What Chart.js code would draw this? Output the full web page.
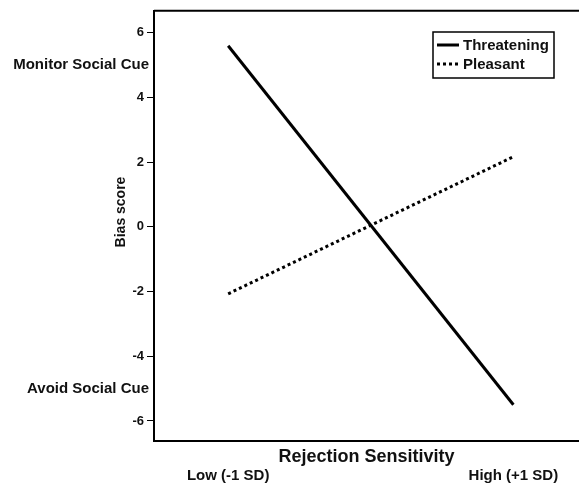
<!DOCTYPE html>
<html>
<head>
<meta charset="utf-8">
<script src="https://cdn.jsdelivr.net/npm/chart.js@4"></script>
<style>
  html, body { margin: 0; padding: 0; background: #fff; }
  #wrap { width: 579px; height: 484px; }
</style>
</head>
<body>
<div id="wrap"><canvas id="myChart"></canvas></div>
<script>
// data
const levels = ['Low (-1 SD)', 'High (+1 SD)'];
const levelPos = [0, 1];
const threatening = [5.6, -5.5];
const pleasant = [-2.07, 2.17];
const yTicks = [-6, -4, -2, 0, 2, 4, 6];

const FONT = '"Liberation Sans", Arial, sans-serif';

const ctx = document.getElementById('myChart').getContext('2d');

// extra text + frame + legend drawn by hand
const decorations = {
    id: 'decorations',
    afterDraw(chart) {
        const { ctx, chartArea, scales } = chart;
        const y = scales.y;
        ctx.save();

        // top border of the plot box
        ctx.strokeStyle = '#000';
        ctx.lineWidth = 2;
        ctx.beginPath();
        ctx.moveTo(chartArea.left, chartArea.top);
        ctx.lineTo(chartArea.right, chartArea.top);
        ctx.stroke();

        ctx.fillStyle = '#111';
        ctx.textBaseline = 'middle';

        // anchor labels
        ctx.font = 'bold 15px ' + FONT;
        ctx.textAlign = 'right';
        ctx.fillText('Monitor Social Cue', 149, y.getPixelForValue(5));
        ctx.fillText('Avoid Social Cue', 149, y.getPixelForValue(-5));

        // y title
        ctx.font = 'bold 14px ' + FONT;
        ctx.save();
        ctx.translate(121, 212);
        ctx.rotate(-Math.PI / 2);
        ctx.textAlign = 'center';
        ctx.fillText('Bias score', 0, 0);
        ctx.restore();

        // x title (sits above the tick labels)
        ctx.font = 'bold 18px ' + FONT;
        ctx.textAlign = 'center';
        ctx.fillText('Rejection Sensitivity', (chartArea.left + chartArea.right) / 2, 457);

        // legend box
        const bx = chartArea.right - 146, by = 32, bw = 121, bh = 46;
        ctx.lineWidth = 1.5;
        ctx.strokeStyle = '#000';
        ctx.strokeRect(bx, by, bw, bh);
        ctx.font = 'bold 15px ' + FONT;
        ctx.textAlign = 'left';
        chart.data.datasets.forEach((ds, i) => {
            const ly = by + 13 + i * 19;
            ctx.lineWidth = 3;
            ctx.setLineDash(ds.borderDash || []);
            ctx.beginPath();
            ctx.moveTo(bx + 4, ly);
            ctx.lineTo(bx + 26, ly);
            ctx.stroke();
            ctx.setLineDash([]);
            ctx.fillText(ds.label, bx + 30, ly + 1);
        });

        ctx.restore();
    }
};

new Chart(ctx, {
    type: 'line',
    data: {
        datasets: [
            {
                label: 'Threatening',
                data: levelPos.map((x, i) => ({ x: x, y: threatening[i] })),
                borderColor: '#000',
                borderWidth: 3,
                pointRadius: 0,
                fill: false
            },
            {
                label: 'Pleasant',
                data: levelPos.map((x, i) => ({ x: x, y: pleasant[i] })),
                borderColor: '#000',
                borderWidth: 3,
                borderDash: [3, 3],
                pointRadius: 0,
                fill: false
            }
        ]
    },
    options: {
        responsive: true,
        maintainAspectRatio: false,
        animation: false,
        layout: { padding: { top: 10, right: 0, left: 0, bottom: 0 } },
        plugins: {
            legend: { display: false },
            tooltip: { enabled: false }
        },
        scales: {
            x: {
                type: 'linear',
                min: -0.26,
                max: 1.23,
                afterBuildTicks: (scale) => {
                    scale.ticks = levelPos.map(v => ({ value: v }));
                },
                afterFit: (scale) => {
                    scale.height = 43;
                    scale.paddingLeft = 0;
                    scale.paddingRight = 0;
                },
                ticks: {
                    callback: (v) => levels[levelPos.indexOf(v)],
                    font: { family: FONT, size: 15, weight: 'bold' },
                    color: '#111',
                    padding: 26,
                    maxRotation: 0
                },
                grid: { display: false, drawTicks: false },
                border: { color: '#000', width: 2 }
            },
            y: {
                min: -6.62,
                max: 6.68,
                afterBuildTicks: (scale) => {
                    scale.ticks = yTicks.map(v => ({ value: v }));
                },
                afterFit: (scale) => { scale.width = 154; },
                ticks: {
                    font: { family: FONT, size: 13, weight: 'bold' },
                    color: '#111',
                    padding: 3
                },
                grid: {
                    drawOnChartArea: false,
                    drawTicks: true,
                    tickLength: 7,
                    tickColor: '#000',
                    tickWidth: 1
                },
                border: { color: '#000', width: 2 }
            }
        }
    },
    plugins: [decorations]
});
</script>
</body>
</html>
